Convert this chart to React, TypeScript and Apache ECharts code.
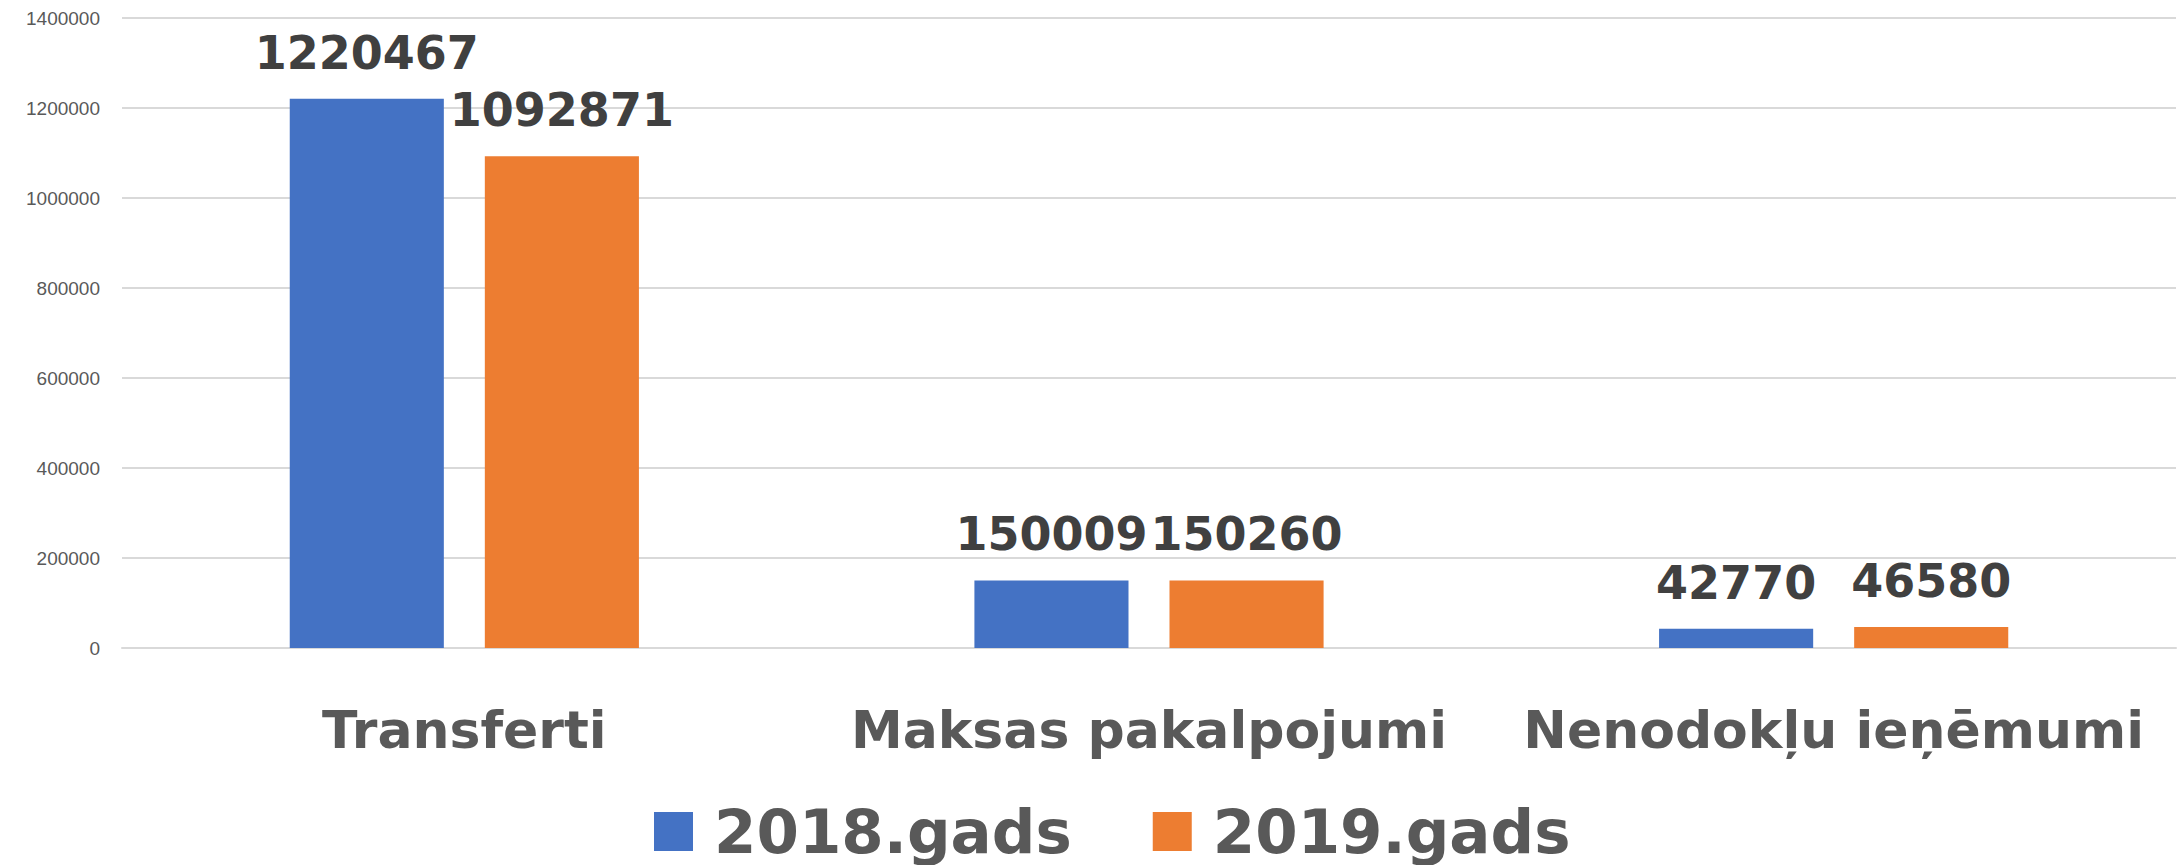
import React, { useEffect, useRef } from "react";
import * as echarts from "echarts";

const categories = ["Transferti", "Maksas pakalpojumi", "Nenodokļu ieņēmumi"];
const seriesNames = ["2018.gads", "2019.gads"];
const values2018 = [1220467, 150009, 42770];
const values2019 = [1092871, 150260, 46580];
const colors = ["#4472C4", "#ED7D31"];

export default function App() {
  const ref = useRef<HTMLDivElement>(null);
  useEffect(() => {
    if (!ref.current) return;
    const chart = echarts.init(ref.current, undefined, { renderer: "svg" });
    const labelStyle = {
      show: true,
      position: "top" as const,
      distance: 23,
      fontFamily: "DejaVu Sans",
      fontWeight: "bold" as const,
      fontSize: 46,
      color: "#404040",
    };
    chart.setOption({
      animation: false,
      color: colors,
      grid: { left: 122, right: 2, top: 18, bottom: 217, containLabel: false },
      legend: {
        left: 654,
        top: 801,
        padding: 0,
        itemWidth: 39,
        itemHeight: 39,
        itemGap: 81,
        icon: "rect",
        textStyle: {
          fontFamily: "DejaVu Sans",
          fontWeight: "bold",
          fontSize: 61,
          lineHeight: 61,
          color: "#595959",
          padding: [0, 0, 0, 16],
        },
        data: seriesNames,
      },
      xAxis: {
        type: "category",
        data: categories,
        axisLine: { show: true, lineStyle: { color: "#d9d9d9", width: 2 } },
        axisTick: { show: false },
        axisLabel: {
          interval: 0,
          hideOverlap: false,
          margin: 56,
          fontFamily: "DejaVu Sans",
          fontWeight: "bold",
          fontSize: 52,
          color: "#595959",
        },
      },
      yAxis: {
        type: "value",
        min: 0,
        max: 1400000,
        interval: 200000,
        axisLine: { show: false },
        axisTick: { show: false },
        splitLine: { lineStyle: { color: "#d9d9d9", width: 2 } },
        axisLabel: {
          margin: 22,
          fontFamily: "Liberation Sans",
          fontSize: 19,
          color: "#595959",
          formatter: (v: number) => String(v),
        },
      },
      series: [
        {
          name: seriesNames[0],
          type: "bar",
          data: values2018,
          barGap: "26.6%",
          barCategoryGap: "49%",
          label: labelStyle,
        },
        {
          name: seriesNames[1],
          type: "bar",
          data: values2019,
          barGap: "26.6%",
          barCategoryGap: "49%",
          label: labelStyle,
        },
      ],
    });
    return () => chart.dispose();
  }, []);
  return (
    <div
      ref={ref}
      style={{ position: "fixed", left: 0, top: 0, width: 2178, height: 865, background: "#fff" }}
    />
  );
}
